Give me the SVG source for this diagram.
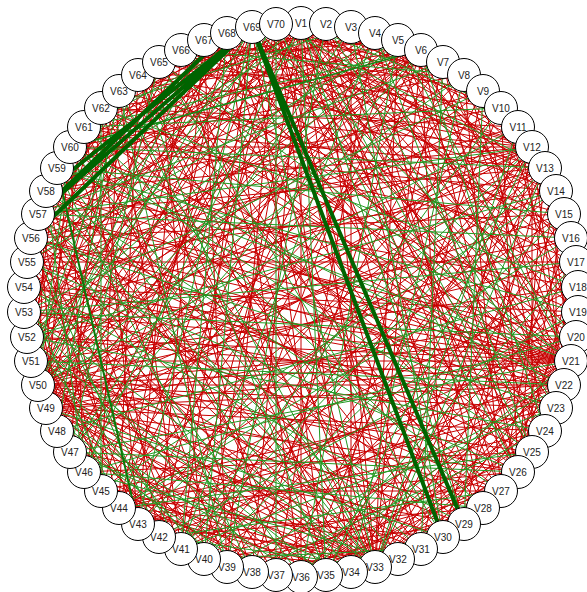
<svg xmlns="http://www.w3.org/2000/svg" width="587" height="592" viewBox="0 0 587 592">
<style>
.r{fill:none;stroke:#c80000;stroke-width:1;stroke-linejoin:round}
.g{fill:none;stroke:#229a22;stroke-width:1;stroke-linejoin:round}
.t{fill:none;stroke:#006400;stroke-width:4;stroke-linecap:round}
.m{fill:none;stroke:#0a7a0a;stroke-width:2}
.node circle{fill:#fff;stroke:#000;stroke-width:1}
.node text{font-family:"Liberation Sans",Arial,sans-serif;font-size:10px;text-anchor:middle;fill:#222}
</style>
<rect width="587" height="592" fill="#fff"/>
<g id="edges">
<path class="r" d="M564 385L301 23L545 431M518 472L301 23L501 491M375 567L301 23L204 559M119 508L301 23L38 385M27 337L301 23L532 147M564 214L301 23L578 287M443 537L301 23L301 577M70 452L301 23L31 238M70 147L301 23L483 91M576 337L301 23L252 572"/>
<path class="r" d="M571 361L276 24L556 408M532 452L276 24L483 508M421 549L276 24L351 572M159 537L276 24L84 472M46 408L276 24L24 312M38 214L276 24L101 108M501 108L276 24L556 191M576 262L276 24L398 559M227 567L276 24"/>
<path class="r" d="M545 168L252 27L571 238M564 385L252 27L545 431M326 575L252 27L181 549M101 491L252 27L57 431M31 361L252 27L24 287M57 168L252 27L84 127M464 75L252 27L578 312"/>
<path class="r" d="M518 472L326 24L375 567M57 431L326 24L27 262M84 127L326 24L518 127M578 312L326 24L464 524M181 549L326 24"/>
<path class="r" d="M564 385L351 27L351 572M38 385L351 27L46 191M556 191L351 27L501 491M119 508L351 27L138 75"/>
<path class="r" d="M571 361L375 33L276 575M46 408L375 33L31 238M564 214L375 33L483 508M138 524L375 33L119 91"/>
<path class="r" d="M556 408L398 40L375 567M70 452L398 40L27 337M70 147L398 40L576 262M518 472L398 40L204 559M159 62L398 40"/>
<path class="r" d="M38 385L421 50L31 361M46 408L421 50L24 312M27 262L421 50L38 214M57 168L421 50L119 91M564 385L421 50L518 472M375 567L421 50L252 572M159 537L421 50L101 491M556 191L421 50L578 287M443 537L421 50L181 50M227 33L421 50"/>
<path class="r" d="M571 361L443 62L326 575M38 385L443 62L24 287M101 108L443 62L532 452M119 508L443 62"/>
<path class="r" d="M564 385L464 75L204 559M27 337L464 75L70 147M501 491L464 75L84 472M138 75L464 75"/>
<path class="r" d="M375 567L483 91L46 408M31 238L483 91L545 431M227 567L483 91L204 40"/>
<path class="r" d="M518 472L501 108L138 524M31 361L501 108L46 191M576 337L501 108L301 577M159 62L501 108"/>
<path class="r" d="M564 385L518 127L70 452M27 262L518 127L421 549M101 108L518 127L227 33"/>
<path class="r" d="M38 385L532 147L27 337M24 287L532 147L31 238M46 191L532 147L70 147M101 108L532 147L138 75M181 50L532 147L46 408M101 491L532 147L181 549M276 575L532 147L375 567M464 524L532 147L532 452M564 385L532 147L204 40M227 33L532 147L204 559"/>
<path class="r" d="M38 385L545 168L24 312M38 214L545 168L84 127M159 62L545 168L119 508M326 575L545 168L443 537M518 472L545 168L571 361M57 431L545 168L227 567"/>
<path class="r" d="M46 408L556 191L27 262M70 147L556 191L375 567M159 537L556 191L501 491M556 408L556 191L181 50"/>
<path class="r" d="M38 385L564 214L31 238M119 91L564 214L351 572M119 508L564 214L518 472M564 385L564 214"/>
<path class="r" d="M46 408L571 238L27 337M84 127L571 238L252 572M443 537L571 238L556 408M204 40L571 238"/>
<path class="r" d="M38 385L576 262L27 262M138 75L576 262L181 549M375 567L576 262L518 472"/>
<path class="r" d="M31 361L578 287L46 191M181 50L578 287L119 508M301 577L578 287L501 491"/>
<path class="r" d="M46 408L578 312L24 287M101 108L578 312L375 567M204 559L578 312L532 452"/>
<path class="r" d="M38 385L576 337L38 214M159 62L576 337L138 524M421 549L576 337L518 472"/>
<path class="r" d="M38 385L571 361L46 408M31 361L571 361L27 337M24 312L571 361L24 287M27 262L571 361L31 238M38 214L571 361L46 191M70 147L571 361L101 108M138 75L571 361L181 50M227 33L571 361L119 508M181 549L571 361L252 572M326 575L571 361L375 567M443 537L571 361L501 491"/>
<path class="r" d="M38 385L564 385L46 408M27 337L564 385L24 287M31 238L564 385L57 168M84 127L564 385L119 91M159 62L564 385L204 40M101 491L564 385L159 537M276 575L564 385L375 567M464 524L564 385L518 472"/>
<path class="r" d="M38 385L556 408L24 312M46 191L556 408L138 75M119 508L556 408L301 577M375 567L556 408L483 508"/>
<path class="r" d="M46 408L545 431L27 262M84 127L545 431L204 40M138 524L545 431L326 575M443 537L545 431"/>
<path class="r" d="M38 385L532 452L31 238M101 108L532 452L84 472M252 572L532 452L375 567"/>
<path class="r" d="M46 408L518 472L31 361M38 214L518 472L119 91M227 33L518 472L119 508M204 559L518 472L301 577M375 567L518 472L421 549"/>
<path class="r" d="M38 385L501 491L24 287M70 147L501 491L181 50M101 491L501 491L227 567M375 567L501 491"/>
<path class="r" d="M46 408L483 508L27 262M138 75L483 508L159 537M276 575L483 508L375 567"/>
<path class="r" d="M31 361L464 524L46 191M159 62L464 524L70 452M204 559L464 524"/>
<path class="r" d="M38 385L443 537L31 238M101 108L443 537L119 508M252 572L443 537"/>
<path class="r" d="M46 408L421 549L24 312M84 127L421 549L227 33M101 491L421 549"/>
<path class="r" d="M38 385L398 559L38 214M138 75L398 559L138 524M227 567L398 559"/>
<path class="r" d="M38 385L375 567L46 408M31 361L375 567L27 337M24 287L375 567L31 238M46 191L375 567L70 147M101 108L375 567L138 75M181 50L375 567L227 33M119 508L375 567L101 491M70 452L375 567L181 549M227 567L375 567"/>
<path class="r" d="M46 408L351 572L27 262M119 91L351 572L119 508M204 559L351 572"/>
<path class="r" d="M38 385L326 575L57 168M181 50L326 575L84 472"/>
<path class="r" d="M27 337L301 577L84 127M227 33L301 577L101 491"/>
<path class="r" d="M46 408L276 575L38 214M138 75L276 575L84 472"/>
<path class="r" d="M38 385L252 572L27 262M101 108L252 572L119 508"/>
<path class="r" d="M31 361L227 567L70 147M204 40L227 567"/>
<path class="r" d="M46 408L204 559L31 238M159 62L204 559L70 452"/>
<path class="r" d="M38 385L181 549L46 191M119 91L181 549"/>
<path class="r" d="M27 337L159 537L84 127M204 40L159 537L57 431"/>
<path class="r" d="M38 385L138 524L31 238M101 108L138 524L181 50"/>
<path class="r" d="M46 408L119 508L24 312M46 191L119 508L138 75M227 33L119 508"/>
<path class="r" d="M38 385L101 491L38 214M119 91L101 491"/>
<path class="r" d="M27 337L84 472L70 147M204 40L84 472"/>
<path class="r" d="M27 262L70 452L101 108M38 214L57 431L159 62"/>
<path class="r" d="M31 238L46 408L70 147M138 75L46 408L227 33"/>
<path class="r" d="M27 262L38 385L46 191M84 127L38 385L119 91M181 50L38 385L227 33"/>
<path class="r" d="M57 168L31 361L159 62M38 214L27 337L101 108M227 33L27 337M70 147L24 312L181 50M27 262L119 91M138 75L31 238L227 33M38 214L181 50"/>
<path class="g" d="M532 452L301 23L464 524M326 575L301 23L84 472M27 262L301 23L501 108"/>
<path class="g" d="M518 472L276 24L276 575M31 361L276 24L84 127M545 168L276 24"/>
<path class="g" d="M576 337L252 27L375 567M138 524L252 27L38 385"/>
<path class="g" d="M556 408L326 24L227 567M46 191L326 24M443 537L351 27L70 452M101 108L351 27M532 452L375 33L27 337M181 549L375 33"/>
<path class="g" d="M571 361L398 40L301 577M27 262L398 40L38 385M545 431L421 50L70 452M84 127L421 50M421 549L443 62L38 214"/>
<path class="g" d="M351 572L464 75L38 385M181 50L464 75M464 524L483 91L24 312M181 549L501 108L84 127M375 567L518 127L38 385"/>
<path class="g" d="M326 575L532 147L138 524M38 214L532 147M375 567L545 168L181 549M70 147L545 168M101 491L556 191L27 337M204 559L564 214L57 168"/>
<path class="g" d="M119 508L571 238L38 214M301 577L576 262L24 312M57 431L578 287L101 108M159 537L578 312L57 168M84 472L576 337L24 312"/>
<path class="g" d="M301 577L571 361L70 452M57 168L571 361L159 62M227 567L564 385L31 361M70 147L564 385M181 549L556 408L31 238M252 572L545 431L27 337"/>
<path class="g" d="M119 508L532 452L70 147M70 452L518 472L27 262M159 537L501 491L46 191M84 472L483 508L84 127M301 577L464 524L24 287M46 408L443 537L159 62"/>
<path class="g" d="M204 559L421 549L38 214M84 472L398 559L70 147M159 537L375 567L24 312M57 168L375 567L119 91M70 452L351 572L46 191M27 337L326 575L138 75"/>
<path class="g" d="M46 408L301 577L38 214M24 312L276 575M57 431L252 572L57 168M46 408L227 567L119 91M27 337L204 559L252 27M27 262L181 549L227 33"/>
<path class="g" d="M31 238L159 537M24 287L119 508M101 108L101 491M46 191L84 472M159 62L70 452M119 91L57 431M70 147L38 385L204 40M138 75L31 361"/>
<path class="g" style="stroke-width:1.6;stroke:#178a17" d="M421 50L70 147"/>
<path class="m" d="M57 168L138 524"/>
<path class="t" d="M252 27L464 524M252 27L443 537M252 27L46 191M252 27L38 214M252 27L31 238M227 33L38 214"/>
</g>
<g id="nodes">
<g id="V1" class="node"><circle cx="301" cy="23" r="16.5"/><text x="301" y="26.5">V1</text></g>
<g id="V2" class="node"><circle cx="326" cy="24" r="16.5"/><text x="326" y="27.5">V2</text></g>
<g id="V3" class="node"><circle cx="351" cy="27" r="16.5"/><text x="351" y="30.5">V3</text></g>
<g id="V4" class="node"><circle cx="375" cy="33" r="16.5"/><text x="375" y="36.5">V4</text></g>
<g id="V5" class="node"><circle cx="398" cy="40" r="16.5"/><text x="398" y="43.5">V5</text></g>
<g id="V6" class="node"><circle cx="421" cy="50" r="16.5"/><text x="421" y="53.5">V6</text></g>
<g id="V7" class="node"><circle cx="443" cy="62" r="16.5"/><text x="443" y="65.5">V7</text></g>
<g id="V8" class="node"><circle cx="464" cy="75" r="16.5"/><text x="464" y="78.5">V8</text></g>
<g id="V9" class="node"><circle cx="483" cy="91" r="16.5"/><text x="483" y="94.5">V9</text></g>
<g id="V10" class="node"><circle cx="501" cy="108" r="16.5"/><text x="501" y="111.5">V10</text></g>
<g id="V11" class="node"><circle cx="518" cy="127" r="16.5"/><text x="518" y="130.5">V11</text></g>
<g id="V12" class="node"><circle cx="532" cy="147" r="16.5"/><text x="532" y="150.5">V12</text></g>
<g id="V13" class="node"><circle cx="545" cy="168" r="16.5"/><text x="545" y="171.5">V13</text></g>
<g id="V14" class="node"><circle cx="556" cy="191" r="16.5"/><text x="556" y="194.5">V14</text></g>
<g id="V15" class="node"><circle cx="564" cy="214" r="16.5"/><text x="564" y="217.5">V15</text></g>
<g id="V16" class="node"><circle cx="571" cy="238" r="16.5"/><text x="571" y="241.5">V16</text></g>
<g id="V17" class="node"><circle cx="576" cy="262" r="16.5"/><text x="576" y="265.5">V17</text></g>
<g id="V18" class="node"><circle cx="578" cy="287" r="16.5"/><text x="578" y="290.5">V18</text></g>
<g id="V19" class="node"><circle cx="578" cy="312" r="16.5"/><text x="578" y="315.5">V19</text></g>
<g id="V20" class="node"><circle cx="576" cy="337" r="16.5"/><text x="576" y="340.5">V20</text></g>
<g id="V21" class="node"><circle cx="571" cy="361" r="16.5"/><text x="571" y="364.5">V21</text></g>
<g id="V22" class="node"><circle cx="564" cy="385" r="16.5"/><text x="564" y="388.5">V22</text></g>
<g id="V23" class="node"><circle cx="556" cy="408" r="16.5"/><text x="556" y="411.5">V23</text></g>
<g id="V24" class="node"><circle cx="545" cy="431" r="16.5"/><text x="545" y="434.5">V24</text></g>
<g id="V25" class="node"><circle cx="532" cy="452" r="16.5"/><text x="532" y="455.5">V25</text></g>
<g id="V26" class="node"><circle cx="518" cy="472" r="16.5"/><text x="518" y="475.5">V26</text></g>
<g id="V27" class="node"><circle cx="501" cy="491" r="16.5"/><text x="501" y="494.5">V27</text></g>
<g id="V28" class="node"><circle cx="483" cy="508" r="16.5"/><text x="483" y="511.5">V28</text></g>
<g id="V29" class="node"><circle cx="464" cy="524" r="16.5"/><text x="464" y="527.5">V29</text></g>
<g id="V30" class="node"><circle cx="443" cy="537" r="16.5"/><text x="443" y="540.5">V30</text></g>
<g id="V31" class="node"><circle cx="421" cy="549" r="16.5"/><text x="421" y="552.5">V31</text></g>
<g id="V32" class="node"><circle cx="398" cy="559" r="16.5"/><text x="398" y="562.5">V32</text></g>
<g id="V33" class="node"><circle cx="375" cy="567" r="16.5"/><text x="375" y="570.5">V33</text></g>
<g id="V34" class="node"><circle cx="351" cy="572" r="16.5"/><text x="351" y="575.5">V34</text></g>
<g id="V35" class="node"><circle cx="326" cy="575" r="16.5"/><text x="326" y="578.5">V35</text></g>
<g id="V36" class="node"><circle cx="301" cy="577" r="16.5"/><text x="301" y="580.5">V36</text></g>
<g id="V37" class="node"><circle cx="276" cy="575" r="16.5"/><text x="276" y="578.5">V37</text></g>
<g id="V38" class="node"><circle cx="252" cy="572" r="16.5"/><text x="252" y="575.5">V38</text></g>
<g id="V39" class="node"><circle cx="227" cy="567" r="16.5"/><text x="227" y="570.5">V39</text></g>
<g id="V40" class="node"><circle cx="204" cy="559" r="16.5"/><text x="204" y="562.5">V40</text></g>
<g id="V41" class="node"><circle cx="181" cy="549" r="16.5"/><text x="181" y="552.5">V41</text></g>
<g id="V42" class="node"><circle cx="159" cy="537" r="16.5"/><text x="159" y="540.5">V42</text></g>
<g id="V43" class="node"><circle cx="138" cy="524" r="16.5"/><text x="138" y="527.5">V43</text></g>
<g id="V44" class="node"><circle cx="119" cy="508" r="16.5"/><text x="119" y="511.5">V44</text></g>
<g id="V45" class="node"><circle cx="101" cy="491" r="16.5"/><text x="101" y="494.5">V45</text></g>
<g id="V46" class="node"><circle cx="84" cy="472" r="16.5"/><text x="84" y="475.5">V46</text></g>
<g id="V47" class="node"><circle cx="70" cy="452" r="16.5"/><text x="70" y="455.5">V47</text></g>
<g id="V48" class="node"><circle cx="57" cy="431" r="16.5"/><text x="57" y="434.5">V48</text></g>
<g id="V49" class="node"><circle cx="46" cy="408" r="16.5"/><text x="46" y="411.5">V49</text></g>
<g id="V50" class="node"><circle cx="38" cy="385" r="16.5"/><text x="38" y="388.5">V50</text></g>
<g id="V51" class="node"><circle cx="31" cy="361" r="16.5"/><text x="31" y="364.5">V51</text></g>
<g id="V52" class="node"><circle cx="27" cy="337" r="16.5"/><text x="27" y="340.5">V52</text></g>
<g id="V53" class="node"><circle cx="24" cy="312" r="16.5"/><text x="24" y="315.5">V53</text></g>
<g id="V54" class="node"><circle cx="24" cy="287" r="16.5"/><text x="24" y="290.5">V54</text></g>
<g id="V55" class="node"><circle cx="27" cy="262" r="16.5"/><text x="27" y="265.5">V55</text></g>
<g id="V56" class="node"><circle cx="31" cy="238" r="16.5"/><text x="31" y="241.5">V56</text></g>
<g id="V57" class="node"><circle cx="38" cy="214" r="16.5"/><text x="38" y="217.5">V57</text></g>
<g id="V58" class="node"><circle cx="46" cy="191" r="16.5"/><text x="46" y="194.5">V58</text></g>
<g id="V59" class="node"><circle cx="57" cy="168" r="16.5"/><text x="57" y="171.5">V59</text></g>
<g id="V60" class="node"><circle cx="70" cy="147" r="16.5"/><text x="70" y="150.5">V60</text></g>
<g id="V61" class="node"><circle cx="84" cy="127" r="16.5"/><text x="84" y="130.5">V61</text></g>
<g id="V62" class="node"><circle cx="101" cy="108" r="16.5"/><text x="101" y="111.5">V62</text></g>
<g id="V63" class="node"><circle cx="119" cy="91" r="16.5"/><text x="119" y="94.5">V63</text></g>
<g id="V64" class="node"><circle cx="138" cy="75" r="16.5"/><text x="138" y="78.5">V64</text></g>
<g id="V65" class="node"><circle cx="159" cy="62" r="16.5"/><text x="159" y="65.5">V65</text></g>
<g id="V66" class="node"><circle cx="181" cy="50" r="16.5"/><text x="181" y="53.5">V66</text></g>
<g id="V67" class="node"><circle cx="204" cy="40" r="16.5"/><text x="204" y="43.5">V67</text></g>
<g id="V68" class="node"><circle cx="227" cy="33" r="16.5"/><text x="227" y="36.5">V68</text></g>
<g id="V69" class="node"><circle cx="252" cy="27" r="16.5"/><text x="252" y="30.5">V69</text></g>
<g id="V70" class="node"><circle cx="276" cy="24" r="16.5"/><text x="276" y="27.5">V70</text></g>
</g>
</svg>
